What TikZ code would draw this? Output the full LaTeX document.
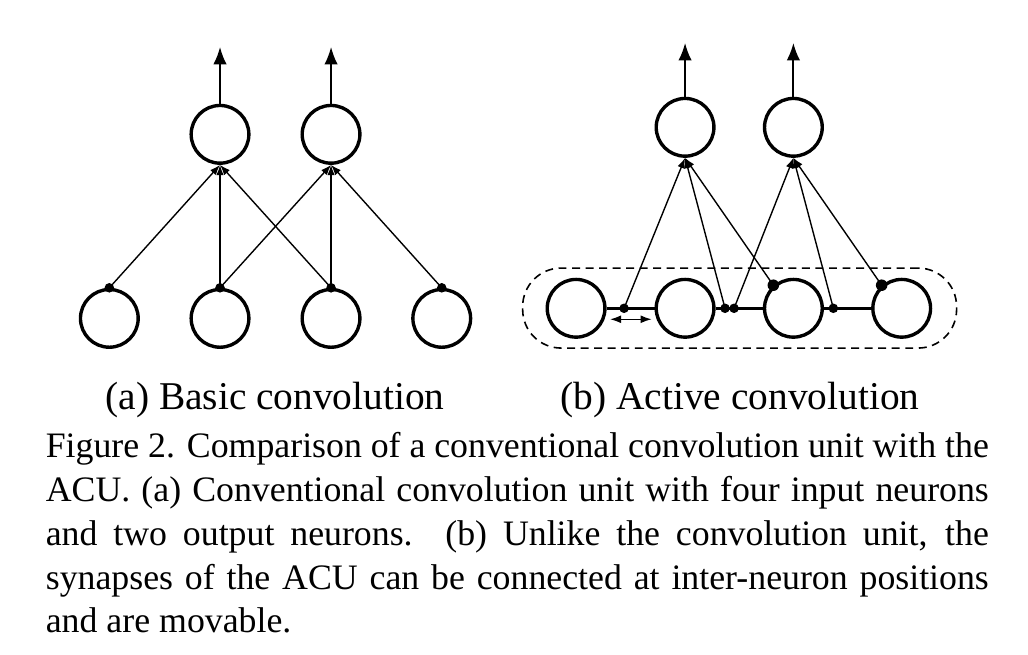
\documentclass[tikz,border=0pt]{standalone}
\usepackage{fontspec}
\setmainfont{Liberation Serif}
\usepackage{tikz}
\usetikzlibrary{arrows.meta}

\begin{document}
\begin{tikzpicture}[
        neuron/.style={draw, circle, minimum size=0.51cm, inner sep=0pt, line width=0.85pt},
        joint/.style={circle, fill, inner sep=0pt, minimum size=2.4pt},
        synapse/.style={-{Latex[length=2.6pt,width=1.9pt]}, line width=0.35pt},
        output/.style={-{Latex[length=4.4pt,width=3.4pt]}, line width=0.45pt},
        subcap/.style={font=\fontsize{9.9}{11.5}\selectfont, inner sep=0pt, anchor=base},
        caption/.style={text width=8.332cm, align=justify, inner sep=0pt, anchor=north west, font=\fontsize{9}{11}\selectfont}
    ]
        \useasboundingbox (0,0) rectangle (9.083,-5.779);

        % (a) Basic convolution
        \node[neuron] (a1) at (0.966,-2.813) {};
        \node[neuron] (a2) at (1.944,-2.813) {};
        \node[neuron] (a3) at (2.925,-2.813) {};
        \node[neuron] (a4) at (3.903,-2.813) {};
        \node[neuron] (ta1) at (1.944,-1.187) {};
        \node[neuron] (ta2) at (2.925,-1.187) {};
        \foreach \i in {1,...,4}
            \node[joint] (ja\i) at (a\i.north) {};
        \draw[synapse] (ja1.center) -- (ta1.south);
        \draw[synapse] (ja2.center) -- (ta1.south);
        \draw[synapse] (ja3.center) -- (ta1.south);
        \draw[synapse] (ja2.center) -- (ta2.south);
        \draw[synapse] (ja3.center) -- (ta2.south);
        \draw[synapse] (ja4.center) -- (ta2.south);
        \coordinate (oa1) at (1.944,-0.415);
        \coordinate (oa2) at (2.925,-0.415);
        \draw[output] (ta1.north) -- (oa1);
        \draw[output] (ta2.north) -- (oa2);

        % (b) Active convolution
        \node[draw, dash pattern=on 2pt off 1.4pt, rounded corners=0.34cm, line width=0.4pt, minimum width=3.834cm, minimum height=0.707cm] (group) at (6.535,-2.722) {};
        \node[neuron] (b1) at (5.090,-2.724) {};
        \node[neuron] (b2) at (6.053,-2.724) {};
        \node[neuron] (b3) at (7.010,-2.724) {};
        \node[neuron] (b4) at (7.967,-2.724) {};
        \node[neuron] (tb1) at (6.053,-1.125) {};
        \node[neuron] (tb2) at (7.010,-1.125) {};
        \draw[line width=0.7pt] (b1) -- (b2);
        \draw[line width=0.7pt] (b2) -- (b3);
        \draw[line width=0.7pt] (b3) -- (b4);
        \node[joint] (jb1) at (5.514,-2.724) {};
        \node[joint] (jb2) at (6.406,-2.724) {};
        \node[joint] (jb3) at (6.486,-2.724) {};
        \node[joint] (jb4) at (7.363,-2.724) {};
        \node[joint, minimum size=2.9pt] (jb5) at (b3.131) {};
        \node[joint, minimum size=2.9pt] (jb6) at (b4.131) {};
        \draw[synapse] (jb1.center) -- (tb1.south);
        \draw[synapse] (jb2.center) -- (tb1.south);
        \draw[synapse] (jb5.center) -- (tb1.south);
        \draw[synapse] (jb3.center) -- (tb2.south);
        \draw[synapse] (jb4.center) -- (tb2.south);
        \draw[synapse] (jb6.center) -- (tb2.south);
        \coordinate (ob1) at (6.053,-0.38);
        \coordinate (ob2) at (7.010,-0.38);
        \draw[output] (tb1.north) -- (ob1);
        \draw[output] (tb2.north) -- (ob2);
        % movable synapse
        \coordinate (ml) at (5.390,-2.821);
        \coordinate (mr) at (5.758,-2.821);
        \draw[{Latex[length=2.8pt,width=2pt]}-{Latex[length=2.8pt,width=2pt]}, line width=0.35pt] (ml) -- (mr);

        % Sub-captions
        \node[subcap] (capa) at (2.43,-3.62) {(a) Basic convolution};
        \node[subcap] (capb) at (6.539,-3.62) {(b) Active convolution};

        % Caption
        \node[caption] (cap) at (0.398,-3.816) {Figure 2. Comparison of a conventional convolution unit with the\linebreak
            ACU. (a) Conventional convolution unit with four input neurons\linebreak
            and two output neurons.  (b) Unlike the convolution unit, the\linebreak
            synapses of the ACU can be connected at inter-neuron positions\linebreak
            and are movable.};

    \end{tikzpicture}
\end{document}
